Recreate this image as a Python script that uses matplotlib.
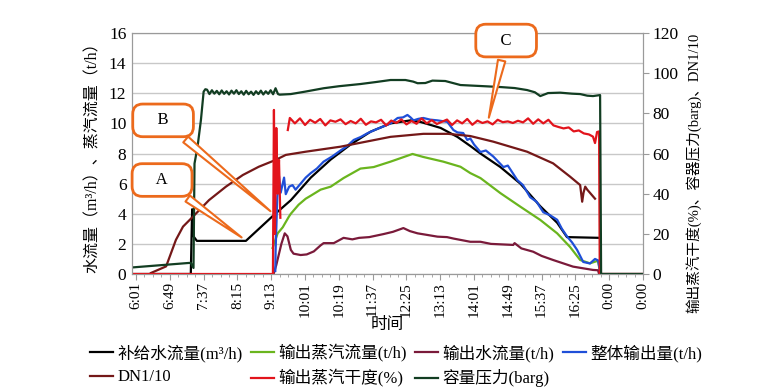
import numpy as np
import matplotlib.pyplot as plt
from matplotlib.ticker import MultipleLocator

# fonts: serif latin + CJK fallback
FONT = ['Liberation Serif', 'Noto Sans CJK SC']
plt.rcParams['font.family'] = FONT
plt.rcParams['axes.unicode_minus'] = False

# x axis categories (time labels, equally spaced)
time_labels = ['6:01', '6:49', '7:37', '8:15', '9:13', '10:01', '10:19', '11:37',
               '12:25', '13:13', '14:01', '14:49', '15:37', '16:25', '0:00', '0:00']

# 补给水流量 (m3/h), left axis
makeup_x = [-0.09, 1.62, 1.66, 1.70, 1.80, 3.25, 4.07, 4.58, 5.17, 5.76, 6.35, 6.94,
            7.53, 8.12, 8.41, 9.01, 9.51, 9.89, 10.19, 10.78, 11.37, 11.96, 12.46,
            12.75, 13.73, 13.75, 15.0]
makeup_y = [0, 0, 4.3, 2.5, 2.2, 2.2, 3.9, 4.9, 6.4, 7.6, 8.6, 9.45,
            10.0, 10.2, 10.1, 9.7, 9.1, 8.5, 8.0, 7.1, 6.0, 4.5, 3.4,
            2.45, 2.4, 0, 0]

# 输出蒸汽流量 (t/h), left axis
steam_x = [4.04, 4.19, 4.34, 4.52, 4.58, 4.81, 5.02, 5.17, 5.46, 5.76, 6.14, 6.64,
           7.03, 7.53, 8.18, 8.50, 9.09, 9.60, 9.89, 10.19, 10.78, 11.37, 11.96,
           12.46, 12.84, 13.14, 13.43, 13.67, 13.72]
steam_y = [1.73, 2.7, 3.1, 3.8, 4.0, 4.6, 5.0, 5.2, 5.6, 5.8, 6.37, 7.0,
           7.1, 7.46, 7.97, 7.77, 7.46, 7.12, 6.7, 6.37, 5.37, 4.47, 3.59,
           2.7, 1.8, 0.93, 0.71, 0.88, 0.2]

# 输出水流量 (t/h), left axis
water_x = [4.07, 4.15, 4.30, 4.40, 4.48, 4.58, 4.66, 4.87, 5.05, 5.26, 5.46, 5.55,
           5.85, 6.14, 6.40, 6.60, 6.90, 7.32, 7.60, 7.91, 8.10, 8.33, 8.60, 8.92,
           9.20, 9.40, 9.89, 10.19, 10.50, 11.16, 11.20, 11.40, 11.75, 12.00, 12.34,
           12.93, 13.52, 13.67, 13.70]
water_y = [0, 0.6, 2.0, 2.7, 2.5, 1.6, 1.35, 1.26, 1.3, 1.5, 1.9, 2.05,
           2.05, 2.4, 2.3, 2.4, 2.45, 2.65, 2.8, 3.05, 2.85, 2.7, 2.6, 2.48,
           2.45, 2.35, 2.14, 2.14, 2.0, 1.93, 2.05, 1.7, 1.48, 1.2, 0.93,
           0.49, 0.27, 0.25, 0]

# 整体输出量 (t/h), left axis
total_x = [4.12, 4.13, 4.18, 4.23, 4.28, 4.38, 4.43, 4.53, 4.63, 4.72, 4.87, 5.02,
           5.17, 5.35, 5.55, 5.80, 6.05, 6.25, 6.44, 6.65, 6.85, 7.10, 7.32, 7.53,
           7.74, 7.90, 8.03, 8.12, 8.21, 8.35, 8.50, 8.70, 8.92, 9.21, 9.39, 9.51,
           9.68, 9.80, 9.89, 10.00, 10.19, 10.35, 10.57, 10.87, 11.00, 11.28, 11.45,
           11.66, 11.85, 12.05, 12.25, 12.46, 12.60, 12.75, 12.90, 13.05, 13.23,
           13.43, 13.58, 13.67, 13.72]
total_y = [0.2, 1.6, 5.1, 6.5, 5.4, 6.4, 5.3, 5.8, 5.9, 5.6, 6.0, 6.4,
           6.7, 7.0, 7.46, 7.8, 8.2, 8.5, 8.9, 9.1, 9.35, 9.6, 9.8, 10.0,
           10.36, 10.4, 10.56, 10.4, 10.2, 10.3, 10.36, 10.25, 10.2, 10.1, 9.56, 9.4,
           9.36, 8.9, 9.0, 8.6, 8.1, 8.2, 7.8, 7.1, 7.2, 6.24, 5.9,
           5.1, 4.8, 4.1, 3.9, 3.6, 3.0, 2.5, 2.1, 1.6, 0.8,
           0.7, 1.0, 0.9, 0.3]

# DN1/10, right axis
dn_x = [0.44, 0.89, 1.18, 1.39, 1.68, 2.16, 2.66, 3.16, 3.63, 4.13, 4.43, 5.02,
        6.05, 7.53, 8.50, 9.23, 9.89, 10.57, 11.57, 12.34, 12.84, 13.14, 13.20,
        13.24, 13.29, 13.35, 13.58]
dn_y = [0.5, 3.8, 17.0, 23.6, 28.5, 36.8, 43.5, 49.3, 53.4, 56.8, 59.3, 60.9,
        63.4, 68.3, 69.8, 69.8, 68.7, 65.9, 60.9, 55.1, 48.5, 44.3, 36.0,
        40.5, 43.5, 42.0, 37.5]

# 输出蒸汽干度 (%), right axis (nan = gap in the trace)
dry_x = [-0.09, 4.05, 4.08, 4.11, 4.15, 4.19, 4.23, 4.27, 4.40, 4.49,
         4.55, 4.70, 4.85, 5.00, 5.15, 5.30, 5.45, 5.60, 5.75, 5.90, 6.05, 6.20,
         6.35, 6.50, 6.65, 6.80, 6.95, 7.10, 7.25, 7.40, 7.55, 7.70, 7.85, 8.00,
         8.15, 8.30, 8.45, 8.60, 8.75, 8.90, 9.05, 9.20, 9.35, 9.50, 9.65, 9.80,
         9.95, 10.10, 10.25, 10.40, 10.55, 10.70, 10.85, 11.00, 11.15, 11.30,
         11.45, 11.60, 11.75, 11.90, 12.05, 12.20,
         12.35, 12.50, 12.65, 12.80, 12.95, 13.10, 13.25, 13.40, 13.52, 13.58,
         13.64, 13.70, 13.72, 15.0]
dry_y = [0, 0, 81.7, 20, 72.7, 40, 56.8, 28, np.nan, 71.7,
         77.7, 75.0, 77.5, 74.2, 76.8, 75.3, 77.2, 74.0, 76.5, 75.8, 77.0, 74.6,
         76.2, 75.0, 77.3, 74.3, 76.0, 75.5, 76.8, 74.0, 76.4, 75.2, 77.0, 74.5,
         76.2, 74.8, 77.5, 75.0, 76.6, 74.7, 75.8, 76.9, 74.2, 76.5, 75.0, 77.2,
         74.3, 76.4, 75.2, 76.0, 74.5, 76.8, 75.6, 76.0, 75.2, 76.3,
         75.5, 77.5, 74.8, 77.0, 75.0, 76.8,
         74.0, 73.2, 72.5, 73.0, 71.0, 71.5, 70.0, 69.5, 68.4, 65.2,
         70.7, 71.0, 0, 0]

# 容量压力 (barg), right axis
press_x = [-0.09, 1.56, 1.62, 1.70, 1.73, 1.82, 1.92, 2.00, 2.05] + \
    list(np.linspace(2.10, 4.20, 30)) + \
    [4.25, 4.58, 5.00, 5.55, 6.00, 6.64, 7.10, 7.53, 7.97, 8.20, 8.33, 8.56,
     8.77, 9.15, 9.60, 10.20, 10.78, 11.20, 11.57, 11.80, 11.96, 12.10, 12.19,
     12.55, 12.90, 13.14, 13.35, 13.52, 13.73, 13.76, 15.0]
press_y = [3.3, 5.5, 5.5, 3.0, 55.0, 63.4, 76.7, 90.8, 92.0] + \
    [91.8, 89.6, 91.5, 89.8, 91.2, 89.5, 91.4, 89.7, 91.0, 89.4, 91.3, 89.8,
     91.5, 89.6, 91.0, 89.3, 91.2, 89.5, 90.8, 89.2, 91.0, 89.6, 91.3, 89.4,
     91.0, 89.7, 91.5, 89.5, 92.5, 89.6] + \
    [89.3, 89.6, 90.8, 92.5, 93.5, 94.6, 95.6, 96.6, 96.6, 95.8, 95.0, 95.1,
     96.3, 96.1, 94.1, 93.6, 93.1, 92.6, 91.6, 90.5, 88.6, 89.5, 90.1,
     90.3, 89.8, 89.6, 88.8, 88.6, 89.1, 0, 0]

fig = plt.figure(figsize=(7.75, 3.88), dpi=100)
ax = fig.add_axes([0.1703, 0.2938, 0.6594, 0.6211])
ax2 = ax.twinx()

lw = 1.6
h1, = ax.plot(makeup_x, makeup_y, color='black', lw=lw, label='补给水流量(m³/h)')
h2, = ax.plot(steam_x, steam_y, color='#6ab51e', lw=lw, label='输出蒸汽流量(t/h)')
h3, = ax.plot(water_x, water_y, color='#7a1a3a', lw=lw, label='输出水流量(t/h)')
h4, = ax.plot(total_x, total_y, color='#1f4fd8', lw=lw, label='整体输出量(t/h)')
h5, = ax2.plot(dn_x, dn_y, color='#741818', lw=lw, label='DN1/10')
h6, = ax2.plot(dry_x, dry_y, color='#e2141c', lw=lw, label='输出蒸汽干度(%)')
h7, = ax2.plot(press_x, press_y, color='#123d22', lw=lw, label='容量压力(barg)')

ax.set_xlim(-0.12, 15.0)
ax.set_ylim(0, 16)
ax2.set_ylim(0, 120)
ax.set_yticks(range(0, 17, 2))
ax2.set_yticks(range(0, 121, 20))
ax.set_xticks(range(len(time_labels)))
ax.set_xticklabels(time_labels, rotation=90, fontsize=11)
ax.xaxis.set_minor_locator(MultipleLocator(0.25))
ax.grid(axis='y', color='#c8c8c8', lw=1)
ax.set_axisbelow(True)

for a in (ax, ax2):
    for s in a.spines.values():
        s.set_color('#9a9a9a')
ax.tick_params(axis='y', length=0, labelsize=12.5, pad=4)
ax.tick_params(axis='x', which='major', length=4, color='#9a9a9a', pad=2)
ax.tick_params(axis='x', which='minor', length=2, color='#9a9a9a')
ax2.tick_params(axis='y', length=4, color='#9a9a9a', labelsize=12.5, pad=3)

ax.set_ylabel('水流量（m³/h）、蒸汽流量（t/h）', fontsize=11.5, labelpad=6)
ax2.set_ylabel('输出蒸汽干度(%)、容器压力(barg)、DN1/10', fontsize=10.5,
               labelpad=5)
ax2.yaxis.set_label_coords(1.083, 0.42)
ax.set_xlabel('时间', fontsize=12, labelpad=0)

# callouts A, B, C
callout = dict(boxstyle='round,pad=0.5,rounding_size=0.6', fc='white',
               ec='#ec6a1c', lw=2)
wedge = dict(arrowstyle='wedge,tail_width=0.45,shrink_factor=0.5', fc='white',
             ec='#ec6a1c', lw=1.5)
for lab, tip, box in [('A', (3.19, 2.32), (0.77, 6.24)),
                      ('B', (4.04, 4.05), (0.80, 10.2)),
                      ('C', (10.42, 10.2), (10.95, 15.5))]:
    ax2.annotate('    ' + lab + '    ', xy=ax2.transData.inverted().transform(
                     ax.transData.transform(tip)),
                 xytext=ax2.transData.inverted().transform(
                     ax.transData.transform(box)),
                 ha='center', va='center', fontsize=12, bbox=callout,
                 arrowprops=wedge, zorder=10, annotation_clip=False)

handles = [h1, h5, h2, h6, h3, h7, h4]
fig.legend(handles=handles, labels=[h.get_label() for h in handles], ncol=4,
           loc='upper left', bbox_to_anchor=(0.105, 0.135), frameon=False,
           fontsize=12, handlelength=1.4, handletextpad=0.25,
           columnspacing=0.5, labelspacing=0.45, borderpad=0.0)

fig.savefig('out.png', dpi=100)
